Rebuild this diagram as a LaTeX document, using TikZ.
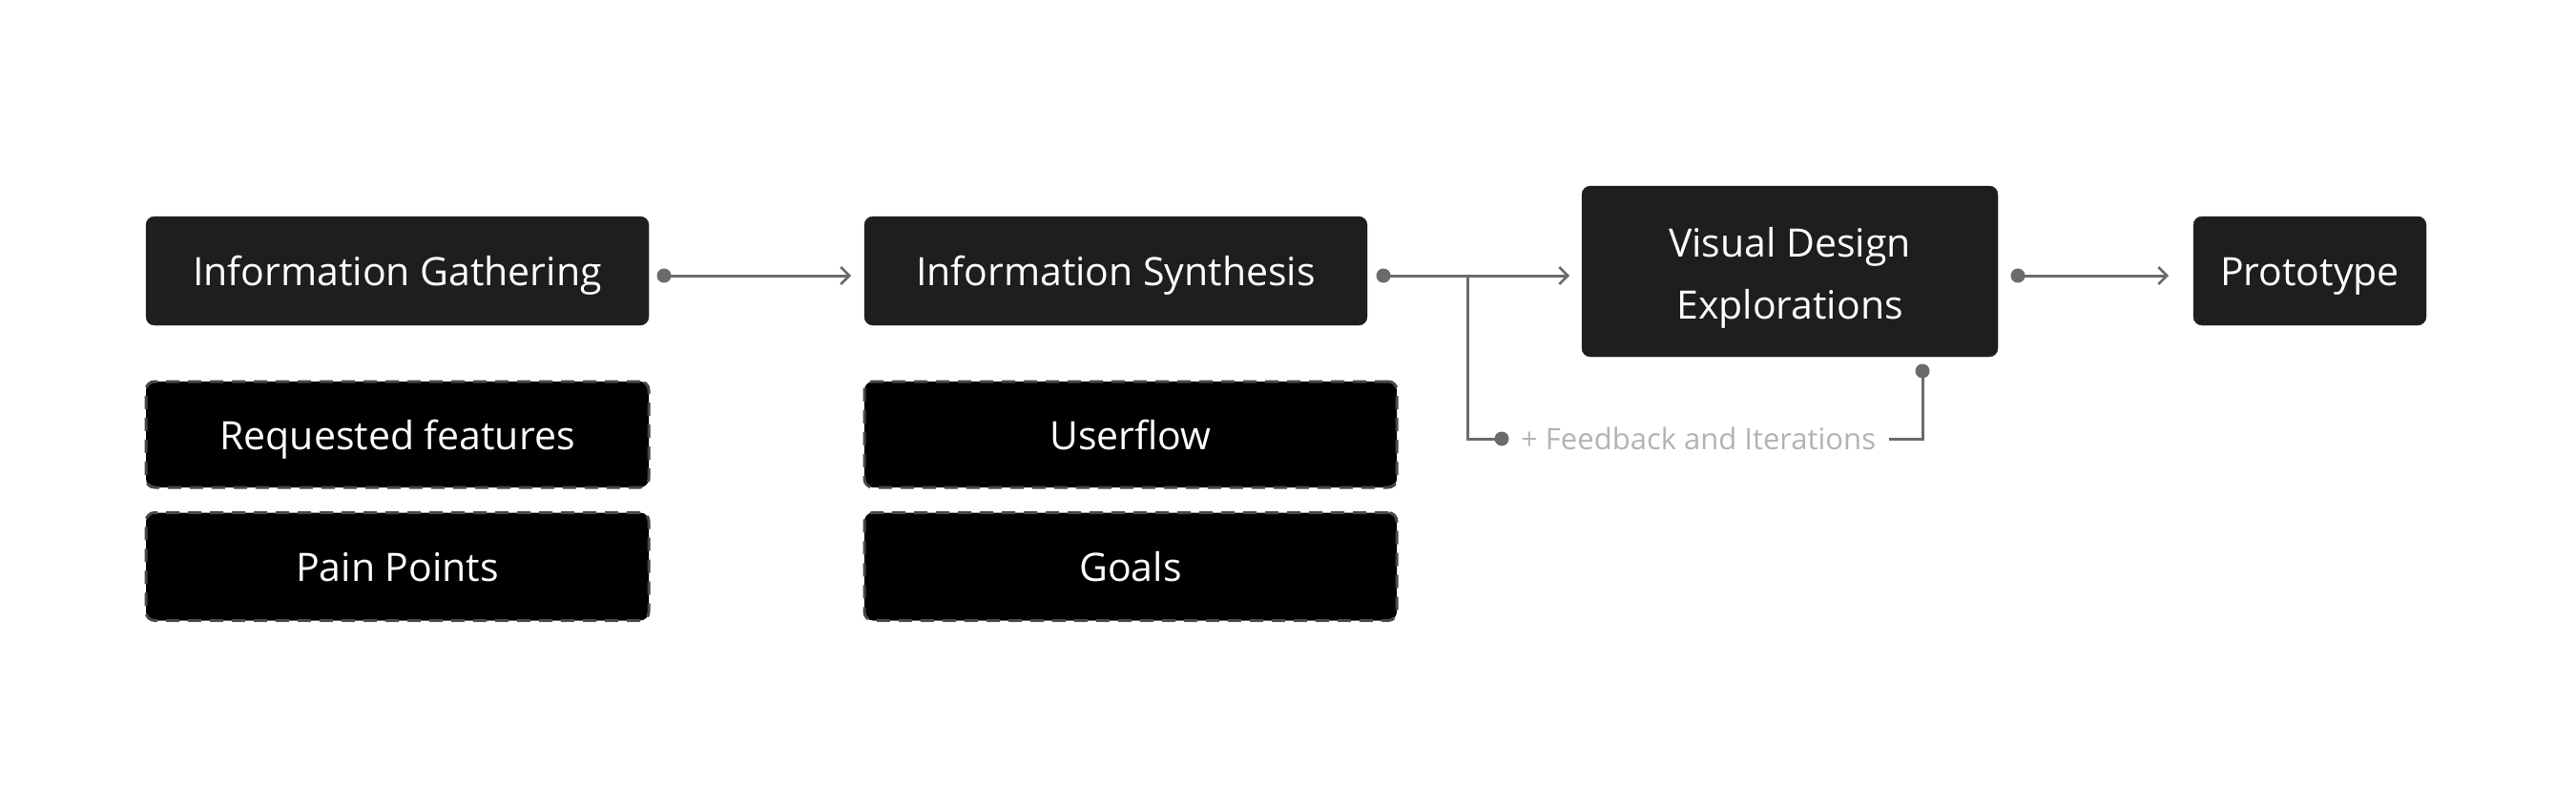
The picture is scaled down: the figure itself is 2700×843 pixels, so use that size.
\documentclass[tikz,border=0pt]{standalone}
\usepackage{fontspec}
\setmainfont{Open Sans}
\usetikzlibrary{arrows.meta,calc}
\definecolor{boxfill}{HTML}{1E1E1E}
\definecolor{dashline}{HTML}{474747}
\definecolor{conn}{HTML}{6B6B6B}
\definecolor{fbtext}{HTML}{B3B3B3}
\tikzset{
  mainbox/.style={rectangle, rounded corners=9pt, fill=boxfill, draw=boxfill, text=white,
    font=\fontsize{41}{65}\selectfont, inner sep=0pt},
  oneline/.style={text height=41pt, text depth=10pt},
  subbox/.style={rectangle, rounded corners=9pt, fill=black, draw=dashline, line width=3pt,
    dash pattern=on 14pt off 9pt, text=white, font=\fontsize{41}{65}\selectfont, inner sep=0pt,
    oneline},
  link/.style={draw=conn, line width=3pt, -{Straight Barb[length=9pt,width=18pt,line width=2.5pt]}},
  plain/.style={draw=conn, line width=3pt},
  dot/.style={circle, fill=conn, inner sep=0pt, minimum size=15pt},
}
\begin{document}
\begin{tikzpicture}[x=1pt,y=-1pt]
\useasboundingbox[fill=white] (0,0) rectangle (2700,843);
% main boxes
\node[mainbox, oneline, minimum width=527pt, minimum height=114pt] (ig) at (416.5,284) {Information Gathering};
\node[mainbox, oneline, minimum width=527pt, minimum height=114pt] (is) at (1169.5,284) {Information Synthesis};
\node[mainbox, minimum width=436pt, minimum height=179pt] (vde) at (1876,284.5)
  {\raisebox{-10.5pt}[0pt][0pt]{\begin{tabular}{@{}c@{}}Visual Design\\Explorations\end{tabular}}};
\node[mainbox, oneline, minimum width=244pt, minimum height=114pt] (pt) at (2421,284) {Prototype};
% dashed boxes
\node[subbox, minimum width=527pt, minimum height=111pt] (rf) at (416.5,455.5) {Requested features};
\node[subbox, minimum width=527pt, minimum height=113pt] (pp) at (416.5,594) {Pain Points};
\node[subbox, minimum width=558pt, minimum height=111pt] (uf) at (1185,455.5) {Userflow};
\node[subbox, minimum width=558pt, minimum height=113pt] (gl) at (1185,594) {Goals};
% connector dots and ends
\node[dot] (d1) at (696,289) {};
\node[dot] (d2) at (1450,289) {};
\node[dot] (d3) at (2115,289) {};
\node[dot] (d4) at (1574,460) {};
\node[dot] (d5) at (2015,389) {};
\coordinate (e1) at (892,289);
\coordinate (e2) at (1645,289);
\coordinate (e3) at (2273,289);
\coordinate (br) at (1538,289);
\node[font=\fontsize{31}{38}\selectfont, text=fbtext, anchor=west, inner sep=0pt] (fb) at (1594,460) {+ Feedback and Iterations};
\coordinate (fe) at (1980,460);
% arrows
\draw[link] (d1.center) -- (e1);
\draw[link] (d2.center) -- (e2);
\draw[link] (d3.center) -- (e3);
\draw[plain] (d4.center) -- (br |- d4) -- (br);
\draw[plain] (fe) -- (d5 |- fe) -- (d5.center);
\end{tikzpicture}
\end{document}
